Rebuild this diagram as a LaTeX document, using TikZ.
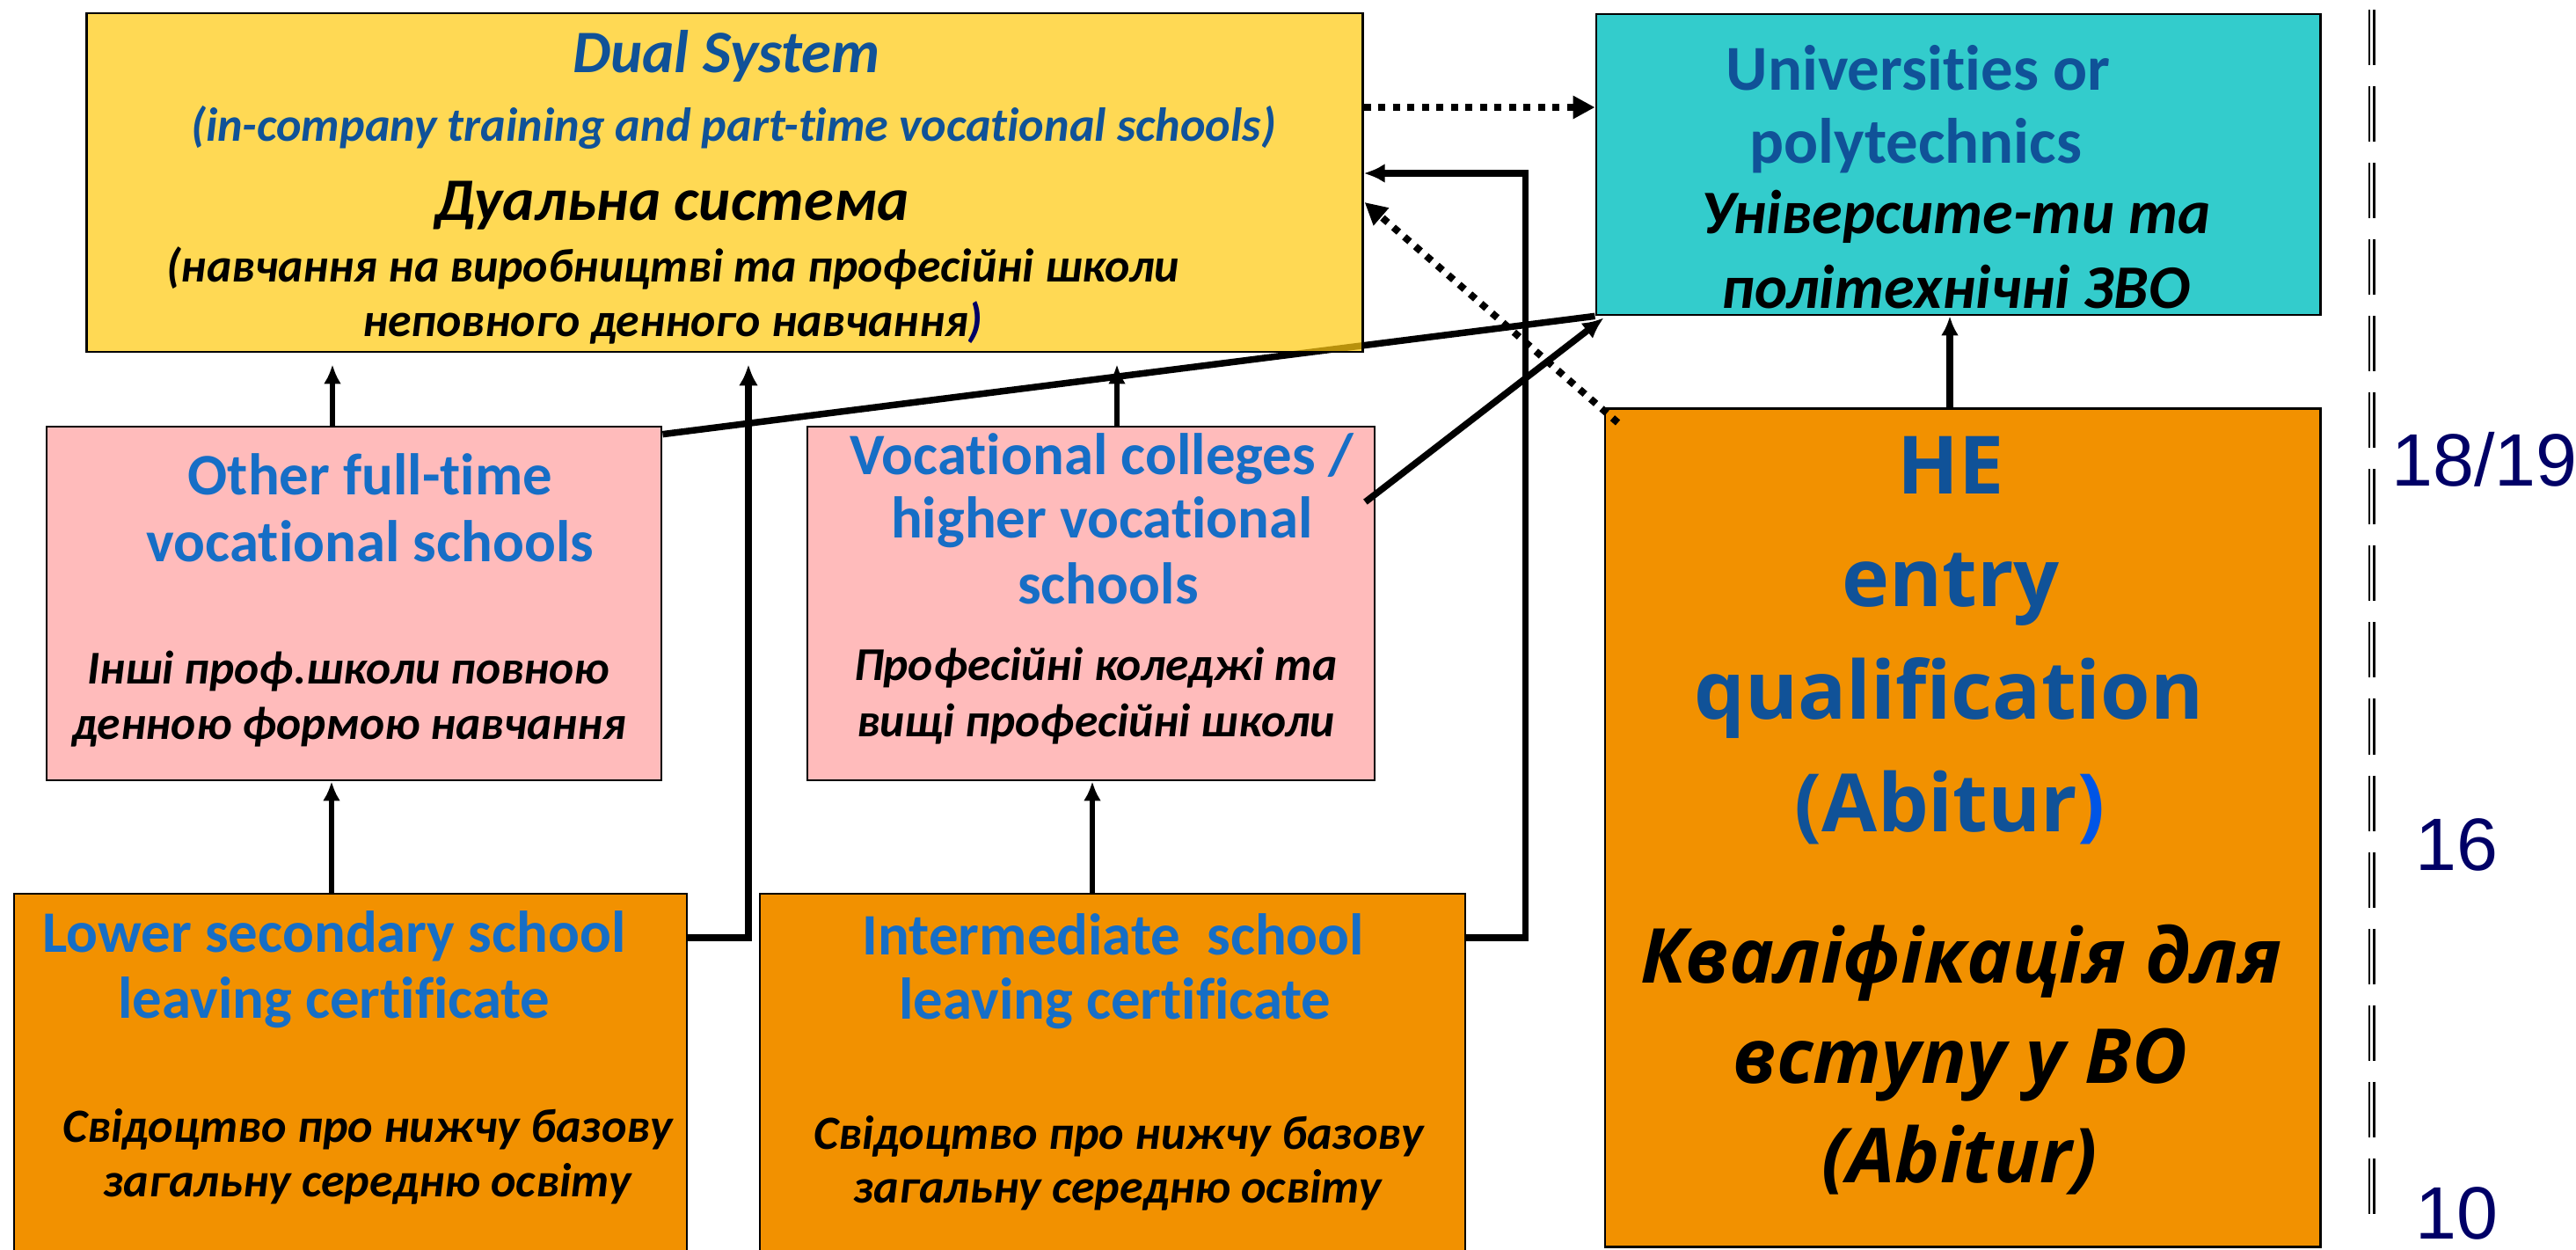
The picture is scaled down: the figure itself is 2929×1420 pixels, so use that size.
\documentclass[tikz,border=0pt]{standalone}
\usepackage{fontspec}
\setmainfont{Carlito}[Ligatures=NoCommon]
\newfontfamily\hefont{Open Sans}
\newfontfamily\agefont{Liberation Sans}
\usetikzlibrary{arrows.meta,calc}
\pgfdeclarelayer{bg}
\pgfsetlayers{bg,main}
\definecolor{dualyellow}{RGB}{255,202,18}
\definecolor{unicyan}{RGB}{51,204,204}
\definecolor{vocpink}{RGB}{255,187,187}
\definecolor{certorange}{RGB}{242,145,0}
\definecolor{darkblue}{RGB}{16,82,152}
\definecolor{midblue}{RGB}{22,110,198}
\definecolor{agenavy}{RGB}{0,0,102}
\definecolor{brightblue}{RGB}{0,85,230}

\begin{document}
\begin{tikzpicture}
[
    x=0.01cm, y=-0.01cm,
    box/.style={draw=black, line width=0.025cm, inner sep=0pt},
    en/.style={anchor=base, inner sep=0pt, text=midblue, font=\bfseries\fontsize{#1}{#1}\selectfont},
    en/.default=19,
    ua/.style={anchor=base, inner sep=0pt, font=\bfseries\itshape\fontsize{#1}{#1}\selectfont},
    ua/.default=15.2,
    he/.style={anchor=base, inner sep=0pt, text=darkblue, font=\hefont\bfseries\fontsize{26}{28}\selectfont},
    heua/.style={anchor=base, inner sep=0pt, font=\hefont\bfseries\itshape\fontsize{24.5}{26}\selectfont},
    age/.style={anchor=base, inner sep=0pt, text=agenavy, font=\agefont\fontsize{24}{26}\selectfont},
    up/.style={line width=0.06cm, -{Latex[length=0.22cm,width=0.2cm]}},
    link/.style={line width=0.075cm},
    link arrow/.style={line width=0.075cm, -{Latex[length=0.24cm,width=0.22cm]}},
    dotted link/.style={line width=0.08cm, dash pattern=on 0.08cm off 0.085cm, -{Triangle[length=0.25cm,width=0.25cm]}},
]
\useasboundingbox (0,0) rectangle (2929,1420);

% boxes
\node[box, fill=dualyellow, fill opacity=0.72, minimum width=14.5cm, minimum height=3.85cm] (yel) at (824,207.5) {};
\node[box, fill=unicyan, minimum width=8.23cm, minimum height=3.42cm] (uni) at (2226.5,187) {};
\node[box, fill=certorange, minimum width=8.13cm, minimum height=9.52cm] (he) at (2231.5,941) {};
\node[box, fill=vocpink, minimum width=6.99cm, minimum height=4.02cm] (oth) at (402.5,686) {};
\node[box, fill=vocpink, minimum width=6.45cm, minimum height=4.02cm] (voc) at (1240.5,686) {};
\node[box, fill=certorange, minimum width=7.65cm, minimum height=4.14cm] (low) at (398.5,1223) {};
\node[box, fill=certorange, minimum width=8.02cm, minimum height=4.14cm] (int) at (1265,1223) {};

% dual system
\node[ua=19.5, text=darkblue] (yelA) at (826,82) {Dual System};
\node[ua=15.4, text=darkblue] (yelB) at (834,160) {(in-company training and part-time vocational schools)};
\node[ua=19.5] (yelC) at (764,250) {Дуальна система};
\node[ua=15.3] (yelD) at (765,320) {(навчання на виробництві та професійні школи};
\node[ua=15.3] (yelE) at (765,382) {неповного денного навчання\textcolor{agenavy}{)}};

% universities
\node[en=20.7, text=darkblue] (uniA) at (2181,102) {Universities or};
\node[en=20.7, text=darkblue] (uniB) at (2178,185) {polytechnics};
\node[ua=20] (uniC) at (2224,265) {Університе-ти та};
\node[ua=20] (uniD) at (2224,350) {політехнічні ЗВО};

% entry qualification
\node[he] (heA) at (2218,561) {HE};
\node[he] (heB) at (2218,689) {entry};
\node[he] (heC) at (2216,817) {qualification};
\node[he] (heD) at (2217,945) {(Abitur\textcolor{brightblue}{)}};
\node[heua] (heE) at (2230,1117) {Кваліфікація для};
\node[heua] (heF) at (2229,1231) {вступу у ВО};
\node[heua] (heG) at (2228,1344) {(Abitur)};

% full-time schools
\node[en] (othA) at (421,562) {Other full-time};
\node[en] (othB) at (421,638) {vocational schools};
\node[ua] (othC) at (396,777) {Інші проф.школи повною};
\node[ua] (othD) at (397,840) {денною формою навчання};

\node[en] (vocA) at (1253,539) {Vocational colleges /};
\node[en] (vocB) at (1253,611) {higher vocational};
\node[en] (vocC) at (1260,686) {schools};
\node[ua] (vocD) at (1246,773) {Професійні коледжі та};
\node[ua] (vocE) at (1246,837) {вищі професійні школи};

% certificates
\node[en] (lowA) at (380,1082) {Lower secondary school};
\node[en] (lowB) at (380,1157) {leaving certificate};
\node[ua=15.4] (lowC) at (418,1298) {Свідоцтво про нижчу базову};
\node[ua=15.4] (lowD) at (418,1360) {загальну середню освіту};

\node[en] (intA) at (1266,1085) {Intermediate\ \ school};
\node[en] (intB) at (1268,1158) {leaving certificate};
\node[ua=15.4] (intC) at (1272,1306) {Свідоцтво про нижчу базову};
\node[ua=15.4] (intD) at (1271,1367) {загальну середню освіту};

% ages
\node[age] (ageA) at (2825,552) {18/19};
\node[age] (ageB) at (2793,989) {16};
\node[age] (ageC) at (2793,1408) {10};
\foreach \x in {2694,2699.5}
    \draw[line width=0.023cm, dash pattern=on 0.63cm off 0.24cm] (\x,11) -- (\x,1390);

% connectors
\draw[up] ($(oth.north)+(-24.5,0)$) -- ($(oth.north |- yel.south)+(-24.5,13)$);
\draw[up] ($(voc.north)+(29.5,0)$) -- ($(voc.north |- yel.south)+(29.5,13)$);
\draw[up] ($(low.north)+(-21.5,0)$) -- ($(low.north |- oth.south)+(-21.5,0)$);
\draw[up] ($(int.north)+(-23,0)$) -- ($(int.north |- voc.south)+(-23,0)$);
\draw[up, line width=0.08cm] ($(he.north)+(-14.5,0)$) -- ($(he.north |- uni.south)+(-14.5,0)$);
\draw[link arrow] ($(low.east)+(0,-157)$) -| ($(yel.south)+(27,13)$);
\draw[link arrow] ($(int.east)+(0,-157)$) -- ++(67,0) |- ($(yel.east)+(0,-10.5)$);
\draw[link arrow] ($(voc.north east)+(-12,87)$) -- ($(uni.south west)+(10,2)$);
\draw[dotted link] ($(yel.east)+(0,-85.5)$) -- ($(uni.west)+(0,-65)$);
\draw[dotted link] ($(he.north west)+(16,17)$) -- ($(yel.east)+(1,22.5)$);
\begin{pgfonlayer}{bg}
\draw[link] ($(oth.north east)+(0,10)$) -- (uni.south west);
\end{pgfonlayer}
\end{tikzpicture}
\end{document}
